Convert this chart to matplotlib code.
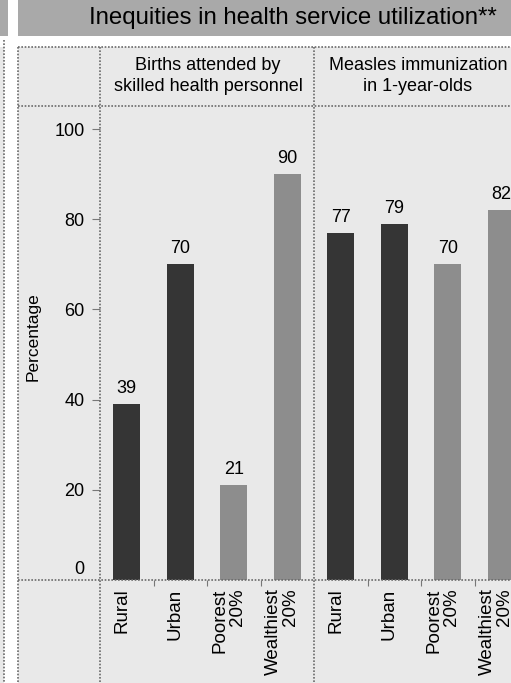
import matplotlib
matplotlib.use("Agg")
import matplotlib.pyplot as plt
from matplotlib.lines import Line2D
from matplotlib.patches import Rectangle
import matplotlib.transforms as mtransforms
import numpy as np

plt.rcParams['font.family'] = ['Liberation Sans', 'DejaVu Sans']

# ---------------- data ----------------
title = "Inequities in health service utilization**"
panel_titles = ["Births attended by\nskilled health personnel",
                "Measles immunization\nin 1-year-olds"]
categories = ["Rural", "Urban", "Poorest\n20%", "Wealthiest\n20%"]
births_values = [39, 70, 21, 90]
measles_values = [77, 79, 70, 82]
y_ticks = [0, 20, 40, 60, 80, 100]
y_label = "Percentage"

W, H = 511, 683
fig = plt.figure(figsize=(W / 100, H / 100), dpi=100)
fig.patch.set_facecolor("white")


def fx(x):
    return x / W


def fy(y):
    return 1 - y / H


bg = "#e9e9e9"
line_col = "#6a6a6a"
dark = "#353535"
light = "#8d8d8d"

# title bar (main) and partial neighbour panel on the left
fig.patches.append(Rectangle((fx(18), fy(36)), fx(W) - fx(18), fy(0) - fy(36),
                             transform=fig.transFigure, facecolor="#a9a9a9",
                             edgecolor="none", zorder=-10))
fig.patches.append(Rectangle((0, fy(36)), fx(8), fy(0) - fy(36),
                             transform=fig.transFigure, facecolor="#a9a9a9",
                             edgecolor="none", zorder=-10))
fig.text(fx(293), fy(18), title, ha="center", va="center", fontsize=17.3,
         color="black")

# main box background
fig.patches.append(Rectangle((fx(18), 0), fx(W) - fx(18), fy(47),
                             transform=fig.transFigure, facecolor=bg,
                             edgecolor="none", zorder=-10))
fig.patches.append(Rectangle((0, 0), fx(4), fy(47),
                             transform=fig.transFigure, facecolor=bg,
                             edgecolor="none", zorder=-10))

dot = (0, (1, 1))


def fline(x0, y0, x1, y1, lw=1.2, col=line_col):
    fig.lines.append(Line2D([fx(x0), fx(x1)], [fy(y0), fy(y1)],
                            transform=fig.transFigure, color=col, lw=lw,
                            linestyle=dot, zorder=5))


# box borders and separators
fline(18, 47, W, 47)
fline(18, 47, 18, H)
fline(4, 40, 4, H)
fline(18, 106, W, 106)
fline(100, 47, 100, H)
fline(314, 47, 314, H)
fline(18, 580, W, 580)

# ---------------- axes ----------------
slot = 53.5
ax_left, ax_right = 100, 100 + 8 * slot
ax_top, ax_bot = 106, 580
ax = fig.add_axes([fx(ax_left), fy(ax_bot), fx(ax_right) - fx(ax_left),
                   fy(ax_top) - fy(ax_bot)])
ax.set_facecolor("none")
for s in ax.spines.values():
    s.set_visible(False)

x1 = np.arange(4)
x2 = np.arange(4) + 4
cols = [dark, dark, light, light]
b1 = ax.bar(x1, births_values, width=0.5, color=cols, zorder=3)
b2 = ax.bar(x2, measles_values, width=0.5, color=cols, zorder=3)
for bars, vals in ((b1, births_values), (b2, measles_values)):
    for r, v in zip(bars, vals):
        ax.annotate(f"{v}", (r.get_x() + r.get_width() / 2, v),
                    xytext=(0, 5), textcoords="offset points",
                    ha="center", va="bottom", fontsize=13)

ax.set_xlim(-0.5, 7.5)
ax.set_ylim(0, 105.1)
ax.set_yticks(y_ticks)
ax.set_yticklabels([str(t) for t in y_ticks], fontsize=13)
ax.tick_params(axis="y", length=6, width=0.8, color="#777777", pad=5)
ax.yaxis.get_major_ticks()[0].tick1line.set_visible(False)
# shift "0" label upward as in the reference
off = mtransforms.ScaledTranslation(0, 13 / 100, fig.dpi_scale_trans)
lab0 = ax.get_yticklabels()[0]
lab0.set_transform(lab0.get_transform() + off)

ax.set_xticks(list(x1) + list(x2))
ax.set_xticklabels(categories * 2, rotation=90, fontsize=13.5,
                   va="top", ha="center", multialignment="right",
                   linespacing=1.0)
ax.tick_params(axis="x", length=0, pad=6)
xoff = mtransforms.ScaledTranslation(-5 / 100, 0, fig.dpi_scale_trans)
for lab in ax.get_xticklabels():
    lab.set_transform(lab.get_transform() + xoff)
ax.set_xticks([0.5, 1.5, 2.5, 4.5, 5.5, 6.5], minor=True)
ax.tick_params(axis="x", which="minor", length=4, width=0.8,
               color="#777777")

ax.set_ylabel(y_label, fontsize=12.5)
ax.yaxis.set_label_coords((41 - ax_left) / (ax_right - ax_left),
                          (ax_bot - 337) / (ax_bot - ax_top))

# panel headers
fig.text(fx(208), fy(76), panel_titles[0], ha="center", va="center",
         fontsize=13, linespacing=1.25)
fig.text(fx(418), fy(76), panel_titles[1], ha="center", va="center",
         fontsize=13, linespacing=1.25)

fig.savefig("out.png", dpi=100, facecolor="white")
